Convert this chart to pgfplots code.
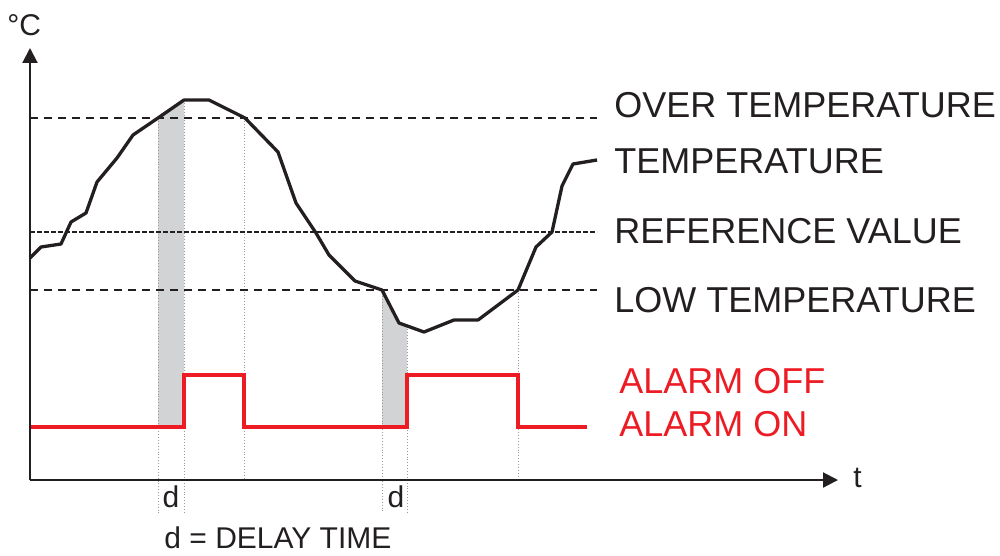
\documentclass[border=0pt]{standalone}
\usepackage{pgfplots}
\pgfplotsset{compat=1.18}
\usepackage{fontspec}
\setmainfont{Liberation Sans}
\usetikzlibrary{arrows.meta}

\definecolor{ink}{HTML}{231F20}
\definecolor{alarmred}{HTML}{ED1C24}
\definecolor{shade}{HTML}{D1D3D4}
\definecolor{guide}{HTML}{9A9A9A}

\begin{document}
\begin{tikzpicture}
\begin{axis}[
  scale only axis,
  width=500pt, height=277.5pt,
  xmin=0, xmax=1000, ymin=0, ymax=555,
  y dir=reverse,
  hide axis,
  clip=false,
]
\path (rel axis cs:0,0) rectangle (rel axis cs:1,1);

% delay-time shading
\addplot[fill=shade, draw=none] coordinates {(158,427) (158,118) (184,100) (184,427)} -- cycle;
\addplot[fill=shade, draw=none] coordinates {(382,427) (382,290) (399,323) (407,326) (407,427)} -- cycle;

% dotted guides
\addplot[guide, densely dotted, line width=0.45pt] coordinates {(158,118) (158,513)};
\addplot[guide, densely dotted, line width=0.45pt] coordinates {(184,100) (184,513)};
\addplot[guide, densely dotted, line width=0.45pt] coordinates {(244,118) (244,478)};
\addplot[guide, densely dotted, line width=0.45pt] coordinates {(382,290) (382,513)};
\addplot[guide, densely dotted, line width=0.45pt] coordinates {(407,326) (407,513)};
\addplot[guide, densely dotted, line width=0.45pt] coordinates {(518,290) (518,478)};

% thresholds
\addplot[ink, line width=1.1pt, dash pattern=on 4pt off 3pt] coordinates {(30,118) (597,118)};
\addplot[ink, line width=0.85pt, dash pattern=on 2.6pt off 0.9pt] coordinates {(30,232) (597,232)};
\addplot[ink, line width=1.1pt, dash pattern=on 4pt off 3pt] coordinates {(30,290) (597,290)};

% temperature
\addplot[ink, line width=1.65pt, line join=round] coordinates {
  (30,258) (41,247) (61,244) (71,222) (86,213) (97,182) (117,158) (133,135)
  (158,118) (184,100) (209,100) (245,118) (278,152) (296,203) (316,233)
  (329,255) (355,281) (382,290) (399,323) (424,332) (454,320) (478,320)
  (518,290) (536,247) (552,232) (562,186) (573,164) (597,160)
};

% alarm state
\addplot[alarmred, line width=1.7pt, line join=miter] coordinates {
  (30,427) (184,427) (184,375) (244,375) (244,427) (407,427) (407,375)
  (518,375) (518,427) (587,427)
};

% axes
\addplot[ink, line width=1.05pt, -{Triangle[length=7.5pt, width=7.5pt]}] coordinates {(30,480) (30,48)};
\addplot[ink, line width=1.05pt, -{Triangle[length=7.5pt, width=7.5pt]}] coordinates {(29.5,480) (838,480)};

% labels
\node[anchor=west, inner sep=0, text=ink, font=\fontsize{15}{17}\selectfont] at (axis cs:7,25) {°C};
\node[anchor=west, inner sep=0, text=ink, font=\fontsize{15}{17}\selectfont] at (axis cs:853,478) {t};

\begin{scope}[every node/.style={anchor=west, inner sep=0, text=ink, font=\fontsize{18}{20}\selectfont}]
\node at (axis cs:614,105) {OVER TEMPERATURE};
\node at (axis cs:614,161.5) {TEMPERATURE};
\node at (axis cs:614,231) {REFERENCE VALUE};
\node at (axis cs:614,300) {LOW TEMPERATURE};
\end{scope}
\begin{scope}[every node/.style={anchor=west, inner sep=0, text=alarmred, font=\fontsize{18}{20}\selectfont}]
\node at (axis cs:619,381) {ALARM OFF};
\node at (axis cs:619,424) {ALARM ON};
\end{scope}

\node[anchor=base, inner sep=0, text=ink, font=\fontsize{15}{17}\selectfont] at (axis cs:171,507) {d};
\node[anchor=base, inner sep=0, text=ink, font=\fontsize{15}{17}\selectfont] at (axis cs:396,507) {d};
\node[anchor=west, inner sep=0, text=ink, font=\fontsize{15}{17}\selectfont] at (axis cs:164,538) {d = DELAY TIME};
\end{axis}
\end{tikzpicture}
\end{document}
